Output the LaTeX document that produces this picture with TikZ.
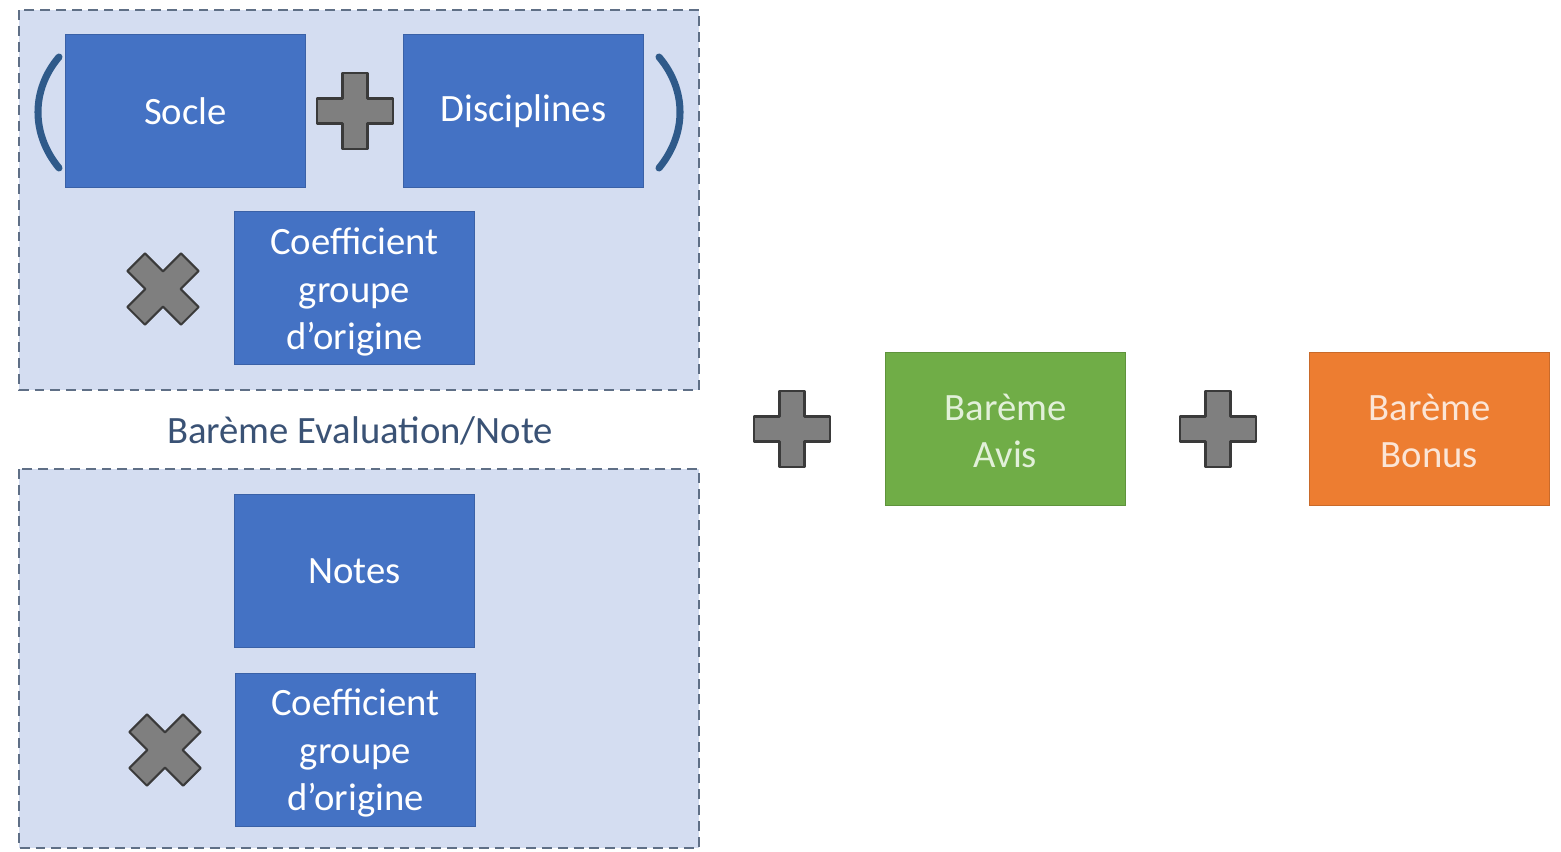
\documentclass[tikz,border=0pt]{standalone}
\usepackage{fontspec}
\setmainfont{Carlito}
\definecolor{boxblue}{HTML}{4472C4}
\definecolor{panelfill}{HTML}{D4DDF1}
\definecolor{panelline}{HTML}{5F6F86}
\definecolor{avisgreen}{HTML}{70AD47}
\definecolor{bonusorange}{HTML}{ED7D31}
\definecolor{avistext}{HTML}{E2F0D9}
\definecolor{bonustext}{HTML}{FBE5D6}
\definecolor{labeltext}{HTML}{3A5275}
\definecolor{parencol}{HTML}{2F5A8A}
\definecolor{signfill}{HTML}{7F7F7F}
\definecolor{signline}{HTML}{3A3A3A}
\tikzset{
  panel/.style={draw=panelline, fill=panelfill, line width=0.6pt, dash pattern=on 2.8pt off 1.7pt},
  boxfont/.style={font=\fontsize{11}{13.4}\selectfont},
  bluebox/.style={draw=boxblue!85!black, line width=0.3pt, fill=boxblue, text=white, minimum width=2.39cm, minimum height=1.52cm, inner sep=0pt, align=center, boxfont},
  boxtext/.style={inner sep=0pt, align=center, boxfont},
  avisbox/.style={bluebox, fill=avisgreen, draw=avisgreen!85!black, text=avistext},
  bonusbox/.style={bluebox, fill=bonusorange, draw=bonusorange!85!black, text=bonustext},
  paren/.style={draw=parencol, line width=2pt, line cap=round},
  signdraw/.style={draw=signline, fill=signfill, line width=0.6pt, line join=round},
  plussign/.pic={\path[signdraw] (-38,-12.5) -- (-12.5,-12.5) -- (-12.5,-38) -- (12.5,-38) -- (12.5,-12.5) -- (38,-12.5) -- (38,12.5) -- (12.5,12.5) -- (12.5,38) -- (-12.5,38) -- (-12.5,12.5) -- (-38,12.5) -- cycle;}
}
\begin{document}
\begin{tikzpicture}[x=0.01cm,y=-0.01cm]
\useasboundingbox (0,0) rectangle (1561,851);
% panels
\path[panel] (19,10) rectangle (699,390);
\path[panel] (19,469) rectangle (699,848);
% top panel
\node[bluebox] (socle) at (185.5,111) {Socle};
\node[bluebox] (disc) at (523.5,111) {Disciplines};
\pic at (355,111) {plussign};
\draw[paren] (59,57) .. controls (31,90) and (31,134) .. (59,168);
\draw[paren] (659,57) .. controls (687,90) and (687,134) .. (659,168);
\node[bluebox] (coef1) at (354.5,288) {};
\node[boxtext, text=white] (coef1t) at (354.5,292) {Coefficient\\groupe\\d’origine};
\pic[rotate=45] at (163,289) {plussign};
% label
\node[text=labeltext, boxfont, inner sep=0pt] (label) at (360,431) {Barème Evaluation/Note};
% bottom panel
\node[bluebox] (notes) at (354.5,571) {Notes};
\node[bluebox] (coef2) at (355.5,750) {};
\node[boxtext, text=white] (coef2t) at (355.5,753) {Coefficient\\groupe\\d’origine};
\pic[rotate=45] at (165,750) {plussign};
% right side
\pic at (792,429) {plussign};
\node[avisbox] (avis) at (1005.5,429) {};
\node[boxtext, text=avistext] (avist) at (1005.5,431) {Barème\\Avis};
\pic at (1218,429) {plussign};
\node[bonusbox] (bonus) at (1429.5,429) {};
\node[boxtext, text=bonustext] (bonust) at (1429.5,431) {Barème\\Bonus};
\end{tikzpicture}
\end{document}
